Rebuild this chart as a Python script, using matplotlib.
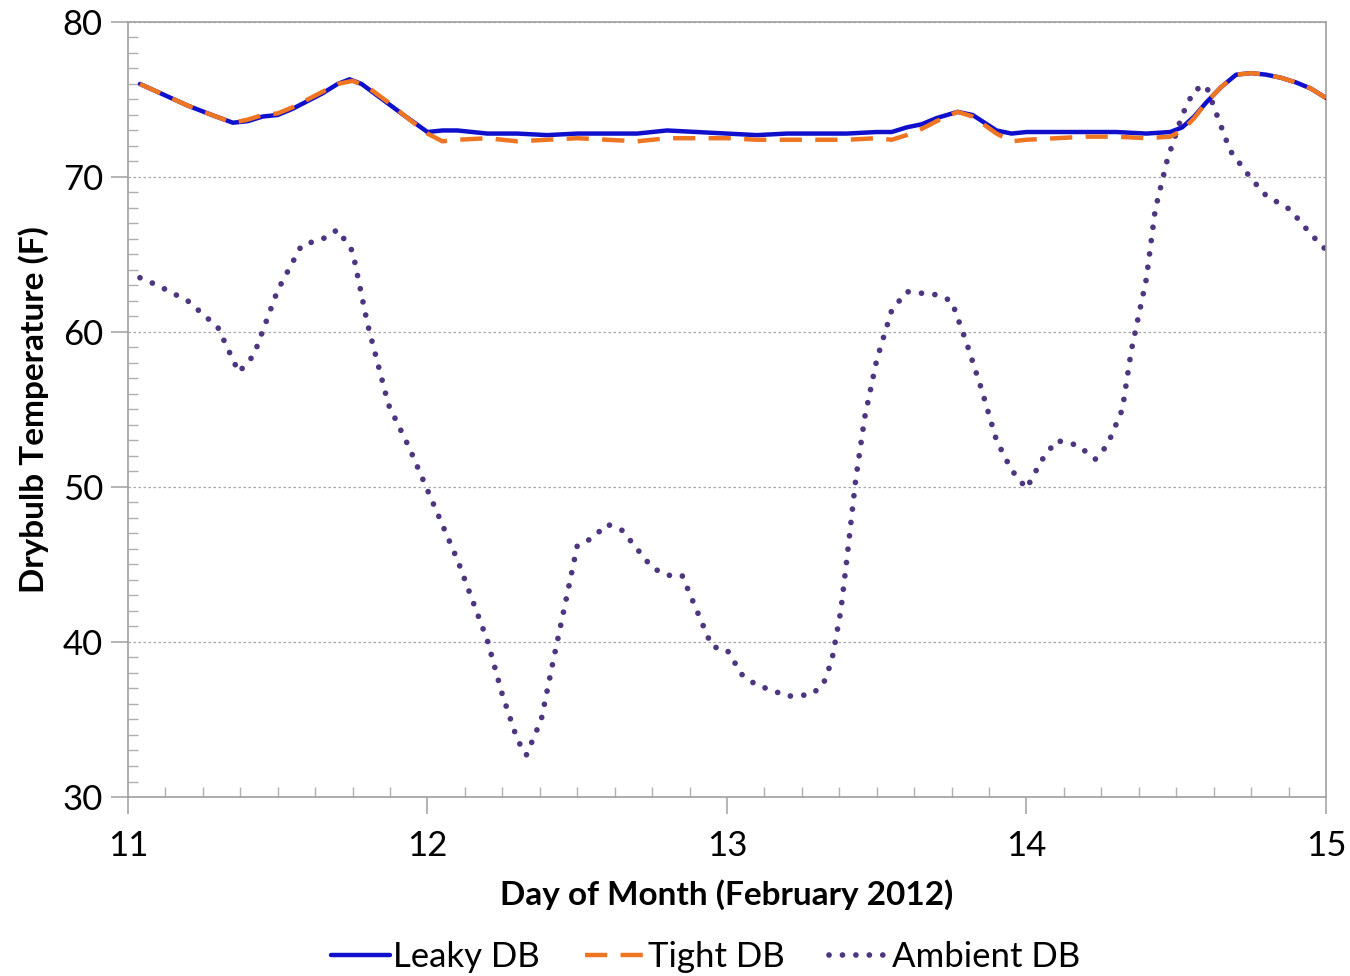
import matplotlib.pyplot as plt
from matplotlib.ticker import MultipleLocator

# --- Data ---
leaky_day = [11.04, 11.12, 11.2, 11.28, 11.35, 11.4, 11.45, 11.5, 11.55, 11.6, 11.65, 11.7,
             11.74, 11.78, 11.85, 11.92, 12.0, 12.05, 12.1, 12.2, 12.3, 12.4, 12.5, 12.6,
             12.7, 12.8, 12.9, 13.0, 13.1, 13.2, 13.3, 13.4, 13.5, 13.55, 13.6, 13.65,
             13.7, 13.77, 13.82, 13.9, 13.95, 14.0, 14.1, 14.2, 14.3, 14.4, 14.48, 14.52,
             14.56, 14.6, 14.65, 14.7, 14.75, 14.8, 14.85, 14.9, 14.95, 15.0]
leaky_db = [76.0, 75.3, 74.6, 74.0, 73.5, 73.6, 73.9, 74.0, 74.4, 74.9, 75.4, 76.0,
            76.3, 76.0, 75.0, 74.0, 72.9, 73.0, 73.0, 72.8, 72.8, 72.7, 72.8, 72.8,
            72.8, 73.0, 72.9, 72.8, 72.7, 72.8, 72.8, 72.8, 72.9, 72.9, 73.2, 73.4,
            73.8, 74.2, 74.0, 73.0, 72.8, 72.9, 72.9, 72.9, 72.9, 72.8, 72.9, 73.2,
            73.9, 74.8, 75.8, 76.6, 76.7, 76.6, 76.4, 76.1, 75.7, 75.1]

tight_day = [11.04, 11.12, 11.2, 11.28, 11.35, 11.4, 11.45, 11.5, 11.55, 11.6, 11.65, 11.7,
             11.75, 11.8, 11.87, 11.94, 12.0, 12.05, 12.1, 12.2, 12.3, 12.4, 12.5, 12.6,
             12.7, 12.8, 12.9, 13.0, 13.1, 13.2, 13.3, 13.4, 13.5, 13.55, 13.6, 13.65,
             13.7, 13.77, 13.82, 13.9, 13.95, 14.0, 14.1, 14.2, 14.3, 14.4, 14.48, 14.52,
             14.56, 14.6, 14.65, 14.7, 14.75, 14.8, 14.85, 14.9, 14.95, 15.0]
tight_db = [76.0, 75.3, 74.6, 74.0, 73.5, 73.7, 74.0, 74.1, 74.5, 75.0, 75.5, 76.0,
            76.2, 75.8, 74.8, 73.7, 72.8, 72.3, 72.4, 72.5, 72.3, 72.4, 72.5, 72.4,
            72.3, 72.5, 72.5, 72.5, 72.4, 72.4, 72.4, 72.4, 72.5, 72.4, 72.7, 73.1,
            73.6, 74.2, 73.9, 72.8, 72.3, 72.4, 72.5, 72.6, 72.6, 72.5, 72.6, 73.0,
            73.8, 74.8, 75.8, 76.6, 76.7, 76.6, 76.4, 76.1, 75.7, 75.1]

ambient_day = [11.04, 11.1, 11.2, 11.3, 11.37, 11.42, 11.5, 11.58, 11.65, 11.7, 11.75,
               11.8, 11.87, 11.94, 12.0, 12.1, 12.2, 12.25, 12.3, 12.33, 12.38, 12.42,
               12.47, 12.5, 12.55, 12.6, 12.65, 12.7, 12.75, 12.8, 12.85, 12.9, 12.95,
               13.0, 13.05, 13.1, 13.15, 13.2, 13.28, 13.32, 13.35, 13.38, 13.4, 13.43,
               13.46, 13.5, 13.55, 13.6, 13.7, 13.75, 13.8, 13.85, 13.9, 13.95, 14.0,
               14.05, 14.1, 14.17, 14.23, 14.27, 14.32, 14.35, 14.4, 14.43, 14.47, 14.52,
               14.56, 14.6, 14.63, 14.68, 14.75, 14.8, 14.88, 14.95, 15.0]
ambient_db = [63.5, 63.0, 62.0, 60.3, 57.4, 58.5, 62.7, 65.6, 66.0, 66.6, 65.2,
              60.5, 55.3, 52.5, 49.8, 45.3, 40.1, 36.6, 33.7, 32.7, 35.0, 38.8,
              43.4, 46.2, 46.7, 47.6, 47.2, 46.0, 44.8, 44.3, 44.3, 42.0, 39.7,
              39.5, 37.9, 37.2, 36.9, 36.5, 36.6, 37.2, 38.8, 42.0, 45.3, 50.5,
              54.5, 58.2, 61.4, 62.6, 62.4, 62.0, 59.3, 56.3, 53.0, 51.1, 49.9,
              51.7, 53.0, 52.7, 51.8, 52.7, 55.0, 58.8, 63.4, 67.9, 71.1, 74.0,
              75.6, 75.9, 74.3, 71.7, 69.9, 68.8, 67.9, 66.3, 65.3]

plt.rcParams['font.family'] = ['Lato', 'DejaVu Sans']

fig = plt.figure(figsize=(13.5, 9.76), dpi=100)
ax = fig.add_axes([0.0948, 0.1834, 0.8874, 0.7941])

ax.plot(leaky_day, leaky_db, color='#1010CC', lw=3.2, label='Leaky DB', zorder=3,
        solid_capstyle='round', solid_joinstyle='round')
ax.plot(tight_day, tight_db, color='#EE7522', lw=3.2, dashes=(5, 3), label='Tight DB', zorder=4)
ax.plot(ambient_day, ambient_db, color='#4E3580', lw=4.1, linestyle=(0, (0.01, 2.35)),
        dash_capstyle='round', label='Ambient DB', zorder=2)

ax.set_xlim(11, 15)
ax.set_ylim(30, 80)
ax.xaxis.set_major_locator(MultipleLocator(1))
ax.xaxis.set_minor_locator(MultipleLocator(0.125))
ax.yaxis.set_major_locator(MultipleLocator(10))
ax.yaxis.set_minor_locator(MultipleLocator(1))

ax.grid(axis='y', which='major', color='#A6A6A6', linestyle=(0, (2, 2)), lw=0.9)
for s in ax.spines.values():
    s.set_color('#A0A0A0')
    s.set_linewidth(1.2)

ax.tick_params(which='major', direction='out', length=12, width=1.1, color='#A0A0A0',
               labelsize=25, pad=6)
ax.tick_params(which='minor', direction='in', length=7, width=1.0, color='#B0B0B0')
ax.tick_params(axis='x', which='major', pad=12)

ax.set_xlabel('Day of Month (February 2012)', fontsize=24, fontweight='bold', labelpad=12)
ax.set_ylabel('Drybulb Temperature (F)', fontsize=24, fontweight='bold', labelpad=10)

ax.legend(loc='center', bbox_to_anchor=(0.482, -0.206), ncol=3, frameon=False,
          fontsize=25, handlelength=1.7, handletextpad=0.1, columnspacing=1.3,
          borderpad=0.1)

fig.savefig('out.png', dpi=100)
